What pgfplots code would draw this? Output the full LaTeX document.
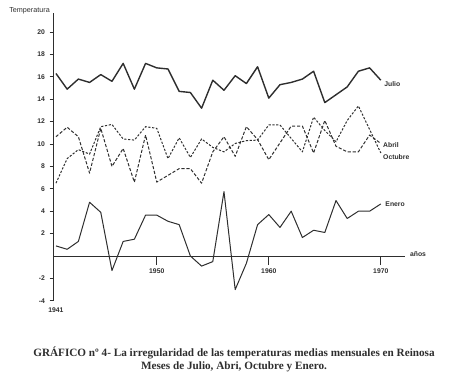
\documentclass[border=0pt]{standalone}
\usepackage{pgfplots}
\pgfplotsset{compat=1.18}
\usepackage{fontspec}
\setmainfont{Liberation Serif}
\setsansfont{Liberation Sans}
\definecolor{ink}{gray}{0.18}
\begin{document}
\begin{tikzpicture}[x=1pt,y=1pt]
\useasboundingbox (0,0) rectangle (468,383);
\begin{axis}[
  at={(53.5pt,82.2pt)}, anchor=south west,
  scale only axis, width=351.5pt, height=287.8pt,
  xmin=1940.78, xmax=1972.16, ymin=-4, ymax=21.7,
  axis x line=middle, axis y line=left,
  axis line style={-, line width=0.8pt, ink},
  xtick=\empty,
  extra x ticks={1950,1960,1970},
  extra x tick style={major tick length=9pt},
  minor xtick={1941,...,1949,1951,1952,...,1959,1961,1962,...,1969},
  ytick={-4,-2,2,4,6,8,10,12,14,16,18,20},
  tick align=outside,
  major tick length=4pt, minor tick length=4pt,
  every tick/.style={ink, line width=0.7pt},
  /pgf/number format/assume math mode=true,
  /pgf/number format/1000 sep={},
  ticklabel style={font=\sffamily\bfseries\fontsize{6.8}{7}\selectfont, text=ink},
  yticklabel style={xshift=-1pt},
  extra x tick labels={1950,1960,1970},
  clip=false,
]
% Julio
\addplot[ink, line width=1.4pt, line join=round] coordinates {
(1941,16.3)(1942,14.9)(1943,15.8)(1944,15.5)(1945,16.2)(1946,15.6)(1947,17.2)(1948,14.9)(1949,17.2)(1950,16.8)
(1951,16.7)(1952,14.7)(1953,14.6)(1954,13.2)(1955,15.7)(1956,14.8)(1957,16.1)(1958,15.4)(1959,16.9)(1960,14.1)
(1961,15.3)(1962,15.5)(1963,15.8)(1964,16.5)(1965,13.7)(1966,14.4)(1967,15.1)(1968,16.5)(1969,16.8)(1970,15.7)};
% Abril
\addplot[ink, line width=1pt, dash pattern=on 3.2pt off 1.8pt, line join=round] coordinates {
(1941,10.65)(1942,11.5)(1943,10.65)(1944,7.4)(1945,11.4)(1946,8.0)(1947,9.6)(1948,6.6)(1949,10.8)(1950,6.6)
(1951,7.2)(1952,7.8)(1953,7.8)(1954,6.5)(1955,9.3)(1956,10.65)(1957,8.9)(1958,11.55)(1959,10.4)(1960,8.6)
(1961,10.1)(1962,11.6)(1963,11.6)(1964,9.2)(1965,12.1)(1966,9.8)(1967,9.3)(1968,9.3)(1969,10.8)(1970,10.05)};
% Octubre
\addplot[ink, line width=1pt, dash pattern=on 2.2pt off 1.6pt, line join=round] coordinates {
(1941,6.5)(1942,8.7)(1943,9.5)(1944,9.1)(1945,11.55)(1946,11.75)(1947,10.45)(1948,10.35)(1949,11.55)(1950,11.4)
(1951,8.7)(1952,10.55)(1953,8.8)(1954,10.45)(1955,9.7)(1956,9.3)(1957,10.05)(1958,10.3)(1959,10.35)(1960,11.7)
(1961,11.7)(1962,10.5)(1963,9.3)(1964,12.4)(1965,11.2)(1966,10.2)(1967,12.1)(1968,13.4)(1969,11.3)(1970,9.2)};
% Enero
\addplot[ink, line width=1pt, line join=round] coordinates {
(1941,0.9)(1942,0.6)(1943,1.3)(1944,4.8)(1945,3.9)(1946,-1.3)(1947,1.3)(1948,1.5)(1949,3.65)(1950,3.65)
(1951,3.1)(1952,2.8)(1953,0.0)(1954,-0.9)(1955,-0.5)(1956,5.75)(1957,-3.0)(1958,-0.65)(1959,2.8)(1960,3.7)
(1961,2.55)(1962,4.0)(1963,1.65)(1964,2.3)(1965,2.1)(1966,4.95)(1967,3.35)(1968,4.0)(1969,4.0)(1970,4.65)};
\tikzset{lab/.style={font=\sffamily\bfseries\fontsize{6.8}{7}\selectfont, text=ink, anchor=west, inner sep=0pt}}
\node[lab] at (axis cs:1970.3,15.35) {Julio};
\node[lab] at (axis cs:1970.2,9.95) {Abril};
\node[lab] at (axis cs:1970.2,8.85) {Octubre};
\node[lab] at (axis cs:1970.4,4.65) {Enero};
\node[lab] at (axis cs:1972.6,0.2) {años};
\node[lab, anchor=north] at (axis cs:1941,-4.6) {1941};
\end{axis}
\node[font=\sffamily\fontsize{7.2}{8}\selectfont, text=ink, anchor=east, inner sep=0pt] at (50,372) {Temperatura};
\node[font=\bfseries\fontsize{11.2}{13}\selectfont, text=ink, inner sep=0pt] at (234,30) {GRÁFICO nº 4- La irregularidad de las temperaturas medias mensuales en Reinosa};
\node[font=\bfseries\fontsize{11.2}{13}\selectfont, text=ink, inner sep=0pt] at (234,16) {Meses de Julio, Abri, Octubre y Enero.};
\end{tikzpicture}
\end{document}
